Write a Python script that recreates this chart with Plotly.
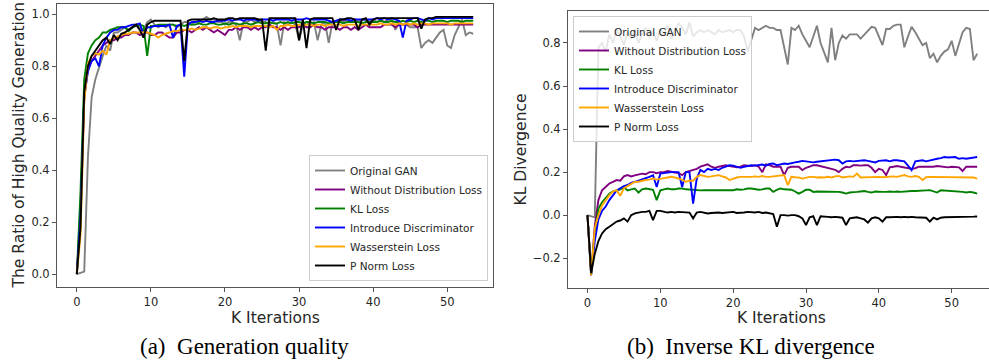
import numpy as np
import plotly.graph_objects as go

# K iterations (checkpoints every 0.5K)
k_iters = np.arange(0, 54, 0.5)

series_names = ["Original GAN", "Without Distribution Loss", "KL Loss",
                "Introduce Discriminator", "Wasserstein Loss", "P Norm Loss"]
series_colors = ["#808080", "#800080", "#008000", "#0000FF", "#FFA500", "#000000"]

# ---------- (a) Ratio of high quality generation ----------
q_original_gan = [
    0.00, 0.005, 0.01, 0.45, 0.68, 0.75, 0.80, 0.84, 0.88, 0.86,
    0.93, 0.93, 0.94, 0.95, 0.94, 0.95, 0.96, 0.95, 0.94, 0.97,
    0.98, 0.96, 0.95, 0.96, 0.95, 0.96, 0.96, 0.95, 0.96, 0.97,
    0.97, 0.96, 0.97, 0.97, 0.98, 0.99, 0.98, 0.98, 0.97, 0.97,
    0.96, 0.97, 0.97, 0.96, 0.90, 0.97, 0.97, 0.98, 0.97, 0.98,
    0.97, 0.97, 0.96, 0.97, 0.96, 0.88, 0.97, 0.96, 0.97, 0.96,
    0.90, 0.96, 0.97, 0.96, 0.97, 0.90, 0.96, 0.97, 0.89, 0.97,
    0.97, 0.98, 0.97, 0.98, 0.97, 0.98, 0.97, 0.98, 0.98, 0.97,
    0.98, 0.97, 0.98, 0.97, 0.98, 0.98, 0.94, 0.97, 0.96, 0.96,
    0.95, 0.95, 0.95, 0.87, 0.89, 0.90, 0.89, 0.91, 0.93, 0.94,
    0.88, 0.87, 0.92, 0.95, 0.98, 0.92, 0.93, 0.925]
q_without_dist = [
    0.00, 0.25, 0.68, 0.79, 0.82, 0.84, 0.86, 0.88, 0.89, 0.90,
    0.90, 0.91, 0.91, 0.92, 0.92, 0.93, 0.93, 0.92, 0.93, 0.93,
    0.92, 0.92, 0.93, 0.93, 0.92, 0.91, 0.91, 0.93, 0.93, 0.94,
    0.94, 0.93, 0.94, 0.95, 0.94, 0.95, 0.94, 0.93, 0.94, 0.93,
    0.92, 0.94, 0.94, 0.95, 0.94, 0.95, 0.95, 0.94, 0.95, 0.94,
    0.95, 0.95, 0.96, 0.95, 0.95, 0.94, 0.95, 0.94, 0.95, 0.95,
    0.95, 0.96, 0.95, 0.95, 0.96, 0.95, 0.95, 0.94, 0.95, 0.95,
    0.95, 0.94, 0.95, 0.95, 0.94, 0.95, 0.94, 0.95, 0.96, 0.95,
    0.95, 0.95, 0.95, 0.96, 0.96, 0.96, 0.95, 0.96, 0.96, 0.96,
    0.96, 0.96, 0.95, 0.96, 0.96, 0.96, 0.96, 0.96, 0.96, 0.96,
    0.96, 0.96, 0.96, 0.96, 0.96, 0.96, 0.96, 0.96]
q_kl = [
    0.00, 0.32, 0.75, 0.85, 0.88, 0.90, 0.91, 0.93, 0.93, 0.94,
    0.945, 0.95, 0.95, 0.95, 0.935, 0.95, 0.955, 0.96, 0.955, 0.84,
    0.955, 0.955, 0.96, 0.96, 0.96, 0.96, 0.96, 0.955, 0.96, 0.955,
    0.96, 0.96, 0.96, 0.965, 0.96, 0.96, 0.965, 0.965, 0.96, 0.96,
    0.965, 0.96, 0.965, 0.965, 0.96, 0.965, 0.965, 0.96, 0.965, 0.97,
    0.965, 0.965, 0.97, 0.965, 0.965, 0.97, 0.965, 0.97, 0.965, 0.97,
    0.97, 0.965, 0.97, 0.97, 0.965, 0.97, 0.97, 0.97, 0.965, 0.97,
    0.97, 0.97, 0.965, 0.97, 0.97, 0.97, 0.97, 0.965, 0.97, 0.97,
    0.97, 0.97, 0.975, 0.97, 0.97, 0.975, 0.97, 0.97, 0.975, 0.97,
    0.975, 0.97, 0.975, 0.97, 0.975, 0.975, 0.97, 0.975, 0.975, 0.975,
    0.97, 0.975, 0.975, 0.975, 0.97, 0.975, 0.975, 0.975]
q_discrim = [
    0.00, 0.22, 0.68, 0.78, 0.82, 0.83, 0.80, 0.88, 0.91, 0.93,
    0.94, 0.94, 0.95, 0.95, 0.955, 0.96, 0.96, 0.965, 0.92, 0.95,
    0.95, 0.955, 0.955, 0.955, 0.955, 0.96, 0.91, 0.955, 0.96, 0.76,
    0.96, 0.97, 0.97, 0.975, 0.97, 0.975, 0.97, 0.97, 0.975, 0.975,
    0.975, 0.98, 0.975, 0.98, 0.98, 0.975, 0.98, 0.98, 0.98, 0.975,
    0.98, 0.98, 0.98, 0.975, 0.98, 0.98, 0.98, 0.98, 0.975, 0.98,
    0.98, 0.98, 0.985, 0.98, 0.98, 0.98, 0.98, 0.98, 0.975, 0.97,
    0.975, 0.98, 0.98, 0.98, 0.975, 0.98, 0.98, 0.98, 0.98, 0.98,
    0.98, 0.985, 0.98, 0.985, 0.98, 0.985, 0.98, 0.975, 0.91, 0.975,
    0.98, 0.985, 0.985, 0.98, 0.975, 0.985, 0.98, 0.985, 0.985, 0.985,
    0.985, 0.985, 0.985, 0.985, 0.985, 0.985, 0.985, 0.985]
q_wasserstein = [
    0.00, 0.15, 0.66, 0.81, 0.84, 0.85, 0.845, 0.86, 0.845, 0.90,
    0.91, 0.915, 0.92, 0.925, 0.925, 0.93, 0.93, 0.93, 0.93, 0.93,
    0.925, 0.92, 0.91, 0.92, 0.925, 0.93, 0.935, 0.935, 0.94, 0.94,
    0.94, 0.945, 0.94, 0.945, 0.95, 0.95, 0.945, 0.95, 0.95, 0.945,
    0.95, 0.95, 0.955, 0.95, 0.955, 0.955, 0.955, 0.95, 0.955, 0.955,
    0.955, 0.955, 0.95, 0.955, 0.94, 0.955, 0.955, 0.96, 0.955, 0.955,
    0.96, 0.955, 0.96, 0.96, 0.955, 0.96, 0.96, 0.955, 0.96, 0.96,
    0.96, 0.96, 0.955, 0.96, 0.96, 0.96, 0.955, 0.96, 0.96, 0.96,
    0.96, 0.96, 0.965, 0.96, 0.96, 0.965, 0.96, 0.965, 0.96, 0.965,
    0.96, 0.965, 0.96, 0.965, 0.965, 0.96, 0.965, 0.965, 0.965, 0.965,
    0.965, 0.96, 0.965, 0.965, 0.965, 0.965, 0.965, 0.965]
q_pnorm = [
    0.00, 0.18, 0.70, 0.80, 0.84, 0.86, 0.88, 0.90, 0.91, 0.885,
    0.92, 0.90, 0.925, 0.93, 0.94, 0.95, 0.96, 0.94, 0.91, 0.96,
    0.97, 0.975, 0.975, 0.975, 0.975, 0.975, 0.975, 0.975, 0.975, 0.82,
    0.975, 0.98, 0.98, 0.98, 0.98, 0.98, 0.98, 0.985, 0.98, 0.98,
    0.98, 0.985, 0.985, 0.98, 0.985, 0.985, 0.985, 0.985, 0.985, 0.98,
    0.98, 0.86, 0.985, 0.985, 0.985, 0.985, 0.985, 0.985, 0.985, 0.985,
    0.90, 0.98, 0.87, 0.98, 0.985, 0.985, 0.985, 0.985, 0.985, 0.985,
    0.94, 0.98, 0.98, 0.985, 0.985, 0.98, 0.94, 0.98, 0.985, 0.96,
    0.98, 0.985, 0.985, 0.985, 0.985, 0.985, 0.985, 0.985, 0.985, 0.985,
    0.985, 0.985, 0.985, 0.945, 0.98, 0.985, 0.985, 0.99, 0.99, 0.99,
    0.99, 0.99, 0.99, 0.99, 0.99, 0.99, 0.99, 0.99]

# ---------- (b) Inverse KL divergence ----------
kl_original_gan = [
    0.00, -0.005, -0.01, 0.78, 0.80, 0.76, 0.84, 0.80, 0.86, 0.83,
    0.79, 0.85, 0.82, 0.86, 0.80, 0.84, 0.87, 0.83, 0.85, 0.81,
    0.86, 0.84, 0.88, 0.82, 0.86, 0.89, 0.87, 0.84, 0.895, 0.83,
    0.85, 0.86, 0.85, 0.86, 0.85, 0.84, 0.86, 0.85, 0.855, 0.86,
    0.85, 0.86, 0.86, 0.83, 0.76, 0.82, 0.87, 0.86, 0.87, 0.88,
    0.87, 0.87, 0.86, 0.86, 0.78, 0.70, 0.87, 0.86, 0.88, 0.84,
    0.81, 0.78, 0.83, 0.88, 0.80, 0.75, 0.71, 0.87, 0.72, 0.80,
    0.835, 0.82, 0.84, 0.84, 0.84, 0.82, 0.84, 0.86, 0.875, 0.87,
    0.83, 0.79, 0.865, 0.865, 0.88, 0.885, 0.885, 0.78, 0.83, 0.875,
    0.85, 0.82, 0.79, 0.80, 0.73, 0.75, 0.71, 0.74, 0.76, 0.77,
    0.81, 0.74, 0.80, 0.85, 0.87, 0.865, 0.72, 0.75]
kl_without_dist = [
    0.00, -0.27, -0.05, 0.07, 0.116, 0.13, 0.147, 0.155, 0.163, 0.16,
    0.18, 0.186, 0.18, 0.185, 0.19, 0.193, 0.19, 0.20, 0.20, 0.195,
    0.20, 0.20, 0.205, 0.20, 0.198, 0.195, 0.186, 0.20, 0.205, 0.209,
    0.215, 0.225, 0.23, 0.236, 0.225, 0.22, 0.225, 0.23, 0.232, 0.228,
    0.225, 0.222, 0.225, 0.232, 0.23, 0.228, 0.232, 0.225, 0.20, 0.236,
    0.232, 0.225, 0.225, 0.225, 0.186, 0.22, 0.225, 0.225, 0.225, 0.209,
    0.22, 0.225, 0.232, 0.232, 0.228, 0.225, 0.222, 0.215, 0.21, 0.20,
    0.215, 0.225, 0.222, 0.232, 0.232, 0.23, 0.232, 0.232, 0.22, 0.20,
    0.215, 0.21, 0.186, 0.222, 0.225, 0.228, 0.225, 0.222, 0.22, 0.215,
    0.218, 0.225, 0.225, 0.225, 0.222, 0.225, 0.228, 0.225, 0.225, 0.222,
    0.225, 0.225, 0.222, 0.205, 0.225, 0.225, 0.225, 0.225]
kl_kl = [
    0.00, -0.27, -0.08, 0.03, 0.06, 0.08, 0.10, 0.11, 0.116, 0.12,
    0.13, 0.115, 0.12, 0.124, 0.105, 0.12, 0.124, 0.12, 0.118, 0.07,
    0.115, 0.12, 0.124, 0.12, 0.12, 0.124, 0.124, 0.12, 0.118, 0.116,
    0.116, 0.115, 0.116, 0.116, 0.115, 0.116, 0.115, 0.116, 0.118, 0.118,
    0.116, 0.12, 0.118, 0.12, 0.124, 0.124, 0.122, 0.118, 0.12, 0.124,
    0.124, 0.108, 0.118, 0.124, 0.12, 0.118, 0.118, 0.11, 0.10, 0.108,
    0.118, 0.118, 0.108, 0.11, 0.11, 0.108, 0.108, 0.108, 0.108, 0.108,
    0.105, 0.10, 0.105, 0.108, 0.108, 0.11, 0.112, 0.108, 0.105, 0.11,
    0.108, 0.108, 0.108, 0.11, 0.108, 0.11, 0.108, 0.11, 0.11, 0.112,
    0.112, 0.112, 0.112, 0.115, 0.116, 0.112, 0.105, 0.116, 0.115, 0.112,
    0.112, 0.11, 0.112, 0.108, 0.105, 0.108, 0.105, 0.10]
kl_discrim = [
    0.00, -0.28, -0.12, -0.02, 0.02, 0.04, 0.07, 0.09, 0.115, 0.125,
    0.135, 0.14, 0.15, 0.155, 0.16, 0.165, 0.17, 0.178, 0.185, 0.131,
    0.193, 0.195, 0.20, 0.20, 0.20, 0.20, 0.131, 0.20, 0.20, 0.054,
    0.17, 0.21, 0.20, 0.215, 0.21, 0.215, 0.21, 0.22, 0.225, 0.232,
    0.23, 0.225, 0.22, 0.225, 0.23, 0.232, 0.23, 0.232, 0.235, 0.23,
    0.238, 0.24, 0.232, 0.236, 0.24, 0.238, 0.24, 0.245, 0.248, 0.252,
    0.25, 0.248, 0.245, 0.248, 0.25, 0.252, 0.252, 0.255, 0.258, 0.255,
    0.24, 0.25, 0.252, 0.25, 0.252, 0.252, 0.255, 0.252, 0.25, 0.245,
    0.252, 0.255, 0.255, 0.25, 0.255, 0.255, 0.252, 0.25, 0.23, 0.209,
    0.25, 0.252, 0.255, 0.25, 0.255, 0.26, 0.262, 0.265, 0.27, 0.268,
    0.268, 0.27, 0.262, 0.265, 0.262, 0.265, 0.268, 0.27]
kl_wasserstein = [
    0.00, -0.28, -0.06, 0.00, 0.045, 0.07, 0.093, 0.11, 0.116, 0.09,
    0.125, 0.135, 0.145, 0.155, 0.155, 0.16, 0.163, 0.165, 0.17, 0.165,
    0.17, 0.172, 0.175, 0.178, 0.175, 0.17, 0.165, 0.155, 0.16, 0.16,
    0.178, 0.186, 0.182, 0.178, 0.18, 0.182, 0.186, 0.18, 0.175, 0.163,
    0.17, 0.175, 0.178, 0.178, 0.175, 0.178, 0.18, 0.178, 0.182, 0.178,
    0.178, 0.18, 0.182, 0.185, 0.186, 0.139, 0.178, 0.176, 0.175, 0.17,
    0.175, 0.178, 0.178, 0.175, 0.176, 0.175, 0.178, 0.175, 0.18, 0.182,
    0.175, 0.178, 0.18, 0.178, 0.193, 0.175, 0.176, 0.175, 0.178, 0.176,
    0.178, 0.176, 0.178, 0.178, 0.18, 0.178, 0.182, 0.186, 0.18, 0.178,
    0.182, 0.178, 0.163, 0.176, 0.178, 0.178, 0.178, 0.176, 0.178, 0.178,
    0.176, 0.175, 0.178, 0.176, 0.175, 0.178, 0.175, 0.17]
kl_pnorm = [
    0.00, -0.27, -0.18, -0.12, -0.085, -0.065, -0.054, -0.04, -0.03, -0.025,
    -0.015, -0.03, 0.00, 0.008, 0.012, 0.015, 0.015, 0.02, -0.023, 0.02,
    0.02, 0.015, 0.012, 0.015, 0.012, 0.015, 0.015, 0.012, 0.012, -0.015,
    0.012, 0.015, 0.012, 0.008, 0.01, 0.012, 0.012, 0.01, 0.012, 0.012,
    0.015, 0.01, 0.01, 0.012, 0.015, 0.012, 0.012, 0.015, 0.01, 0.012,
    0.01, 0.005, -0.054, 0.00, 0.00, -0.002, 0.00, 0.00, -0.005, -0.015,
    -0.046, -0.01, -0.005, -0.046, -0.005, -0.005, -0.008, -0.01, -0.008, -0.01,
    -0.012, -0.046, -0.015, -0.012, -0.01, -0.015, -0.02, -0.035, -0.015, -0.01,
    -0.015, -0.03, -0.01, -0.01, -0.008, -0.008, -0.01, -0.008, -0.01, -0.008,
    -0.01, -0.01, -0.01, -0.012, -0.03, -0.012, -0.02, -0.012, -0.01, -0.01,
    -0.01, -0.008, -0.01, -0.008, -0.008, -0.008, -0.007, -0.006]

quality_series = [q_original_gan, q_without_dist, q_kl, q_discrim, q_wasserstein, q_pnorm]
kl_series = [kl_original_gan, kl_without_dist, kl_kl, kl_discrim, kl_wasserstein, kl_pnorm]

x_ticks = [0, 10, 20, 30, 40, 50]
q_ticks = [0.0, 0.2, 0.4, 0.6, 0.8, 1.0]
kl_ticks = [-0.2, 0.0, 0.2, 0.4, 0.6, 0.8]

W, H = 989, 364
AX_FONT = "DejaVu Sans"
SPINE = "#555555"
TXT = "#262626"

fig = go.Figure()
for name, color, ys in zip(series_names, series_colors, quality_series):
    fig.add_trace(go.Scatter(x=k_iters, y=ys, mode="lines", name=name,
                             line=dict(color=color, width=1.9),
                             xaxis="x", yaxis="y", legend="legend"))
for name, color, ys in zip(series_names, series_colors, kl_series):
    fig.add_trace(go.Scatter(x=k_iters, y=ys, mode="lines", name=name,
                             line=dict(color=color, width=1.9),
                             xaxis="x2", yaxis="y2", legend="legend2"))

axis_common = dict(showgrid=False, zeroline=False, showline=True, linecolor=SPINE,
                   linewidth=1, ticks="outside", ticklen=4, tickwidth=1,
                   tickcolor=SPINE, tickfont=dict(family=AX_FONT, size=11.5, color=TXT))

fig.update_layout(
    width=W, height=H,
    margin=dict(l=0, r=0, t=0, b=0),
    paper_bgcolor="white", plot_bgcolor="white",
    xaxis=dict(domain=[57 / W, 493 / W], range=[-2.675, 56.175], tickvals=x_ticks,
               mirror=True, anchor="y", **axis_common),
    yaxis=dict(domain=[(H - 287) / H, (H - 4) / H], range=[-0.0495, 1.0395],
               tickvals=q_ticks, tickformat=".1f", mirror=True, anchor="x", **axis_common),
    xaxis2=dict(domain=[568 / W, 1.0], range=[-2.675, (989 - 587.7) / 7.28],
                tickvals=x_ticks, mirror=True, anchor="y2", **axis_common),
    yaxis2=dict(domain=[(H - 288) / H, (H - 11) / H], range=[-0.3385, 0.9485],
                tickvals=kl_ticks, tickformat=".1f", mirror=False, anchor="x2", **axis_common),
    legend=dict(x=488 / W, y=(H - 281) / H, xanchor="right", yanchor="bottom",
                bgcolor="rgba(255,255,255,0.8)", bordercolor="#cccccc", borderwidth=1,
                font=dict(family=AX_FONT, size=10.5, color=TXT)),
    legend2=dict(x=573 / W, y=(H - 16) / H, xanchor="left", yanchor="top",
                 bgcolor="rgba(255,255,255,0.8)", bordercolor="#cccccc", borderwidth=1,
                 font=dict(family=AX_FONT, size=10.5, color=TXT)),
    showlegend=True,
)

title_font = dict(family=AX_FONT, size=15.5, color=TXT)
cap_font = dict(family="Liberation Serif", size=23, color="#000000")
annotations = [
    dict(text="The Ratio of High Quality Generation", x=18 / W, y=(H - 145.5) / H,
         textangle=-90, font=title_font),
    dict(text="K Iterations", x=275 / W, y=(H - 318) / H, font=title_font),
    dict(text="KL Divergence", x=520 / W, y=(H - 149.5) / H, textangle=-90, font=title_font),
    dict(text="K Iterations", x=781 / W, y=(H - 318) / H, font=title_font),
    dict(text="(a)  Generation quality", x=244 / W, y=(H - 346) / H, font=cap_font),
    dict(text="(b)  Inverse KL divergence", x=750.5 / W, y=(H - 346) / H, font=cap_font),
]
for a in annotations:
    fig.add_annotation(xref="paper", yref="paper", showarrow=False,
                       xanchor="center", yanchor="middle", **a)

fig.write_html("out.html")
